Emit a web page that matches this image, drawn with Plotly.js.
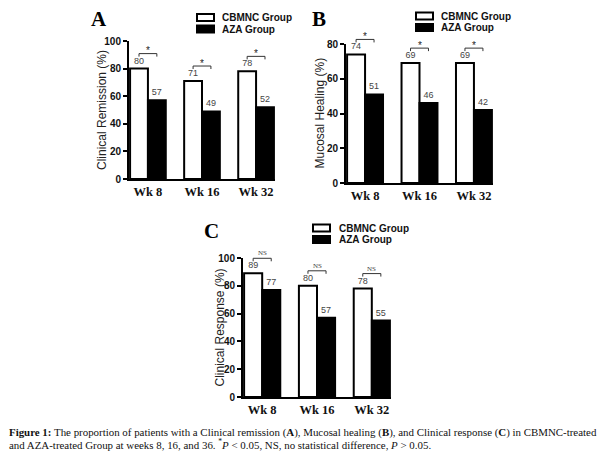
<!DOCTYPE html>
<html>
<head>
<meta charset="utf-8">
<script src="https://cdn.plot.ly/plotly-3.0.1.min.js"></script>
<style>html,body{margin:0;padding:0;background:#fff;}#chart{width:605px;height:457px;}</style>
</head>
<body>
<div id="chart"></div>
<script>
// ---------- data ----------
const weeks = ['Wk 8', 'Wk 16', 'Wk 32'];
const groupNames = ['CBMNC Group', 'AZA Group'];
const remissionCBMNC = [80, 71, 78];
const remissionAZA = [57, 49, 52];
const healingCBMNC = [74, 69, 69];
const healingAZA = [51, 46, 42];
const responseCBMNC = [89, 80, 78];
const responseAZA = [77, 57, 55];
const sigRemission = ['*', '*', '*'];
const sigHealing = ['*', '*', '*'];
const sigResponse = ['NS', 'NS', 'NS'];
const panelLetters = ['A', 'B', 'C'];
const yTitles = ['Clinical Remission (%)', 'Mucosal Healing (%)', 'Clinical Response (%)'];
const yMax = [100, 80, 100];
const captionLines = [
  '<b>Figure 1:</b> The proportion of patients with a Clinical remission (<b>A</b>), Mucosal healing (<b>B</b>), and Clinical response (<b>C</b>) in CBMNC-treated',
  'and AZA-treated Group at weeks 8, 16, and 36. <sup>*</sup><i>P</i> &lt; 0.05, NS, no statistical difference, <i>P</i> &gt; 0.05.'
];

// ---------- layout helpers ----------
const W = 605, H = 457;
const px = v => v / W;
const py = v => 1 - v / H;

const panels = [
  {s: '', cb: remissionCBMNC, az: remissionAZA, sig: sigRemission,
   xd: [129, 275], yd: [179, 41], titleX: 102, letter: [99, 19], leg: {bx: 197, tx: 220, y: [17.5, 29]}},
  {s: '2', cb: healingCBMNC, az: healingAZA, sig: sigHealing,
   xd: [346, 493], yd: [183, 44], titleX: 320, letter: [319, 19], leg: {bx: 416, tx: 439, y: [16, 27.5]}},
  {s: '3', cb: responseCBMNC, az: responseAZA, sig: sigResponse,
   xd: [243, 391], yd: [397, 258], titleX: 219, letter: [211, 231], leg: {bx: 313, tx: 337, y: [228, 239.5]}}
];

const bargap = 0.34;
const halfBar = (1 - bargap) / 4;   // bar centre offset in category units
const valueFont = {family: 'Liberation Sans Narrow, Arial Narrow, Liberation Sans, sans-serif', size: 9, color: '#444'};

const traces = [];
const shapes = [];
const annotations = [];
const layout = {
  width: W, height: H,
  margin: {l: 0, r: 0, t: 0, b: 0},
  paper_bgcolor: '#fff', plot_bgcolor: 'rgba(0,0,0,0)',
  barmode: 'group', bargap: bargap, bargroupgap: 0,
  showlegend: false,
  font: {family: 'Liberation Sans, Arial, sans-serif', color: '#000'}
};

panels.forEach((p, k) => {
  const xa = 'x' + p.s, ya = 'y' + p.s;
  [[p.cb, '#ffffff'], [p.az, '#000000']].forEach(([vals, col], g) => {
    traces.push({
      type: 'bar', x: weeks, y: vals, name: groupNames[g],
      xaxis: xa, yaxis: ya,
      marker: {color: col, line: {color: '#000', width: 2}},
      text: vals.map(String), textposition: 'outside', constraintext: 'none',
      textfont: valueFont, cliponaxis: false, hoverinfo: 'skip'
    });
  });
  const xKey = 'xaxis' + p.s, yKey = 'yaxis' + p.s;
  layout[xKey] = {
    domain: [px(p.xd[0]), px(p.xd[1])], anchor: ya,
    type: 'category', range: [-0.35, 2.35],
    showline: true, linecolor: '#000', linewidth: 2, ticks: '',
    showgrid: false, zeroline: false, fixedrange: true,
    tickfont: {family: 'Liberation Serif, Times New Roman, serif', size: 12.5, weight: 'bold', color: '#111'}
  };
  layout[yKey] = {
    domain: [py(p.yd[0]), py(p.yd[1])], anchor: xa,
    range: [0, yMax[k]], dtick: 20,
    showline: true, linecolor: '#000', linewidth: 2,
    ticks: 'outside', ticklen: 4, tickwidth: 2, tickcolor: '#000',
    showgrid: false, zeroline: false, fixedrange: true,
    tickfont: {family: 'Liberation Sans, Arial, sans-serif', size: 10, weight: 'bold', color: '#111'}
  };

  // y-axis title (placed beside the axis)
  annotations.push({
    xref: 'paper', yref: ya + ' domain', x: px(p.titleX), y: 0.5,
    xanchor: 'center', yanchor: 'middle', textangle: -90, showarrow: false,
    text: yTitles[k],
    font: {family: 'Liberation Sans, Arial, sans-serif', size: 12, color: '#222'}
  });

  // significance brackets spanning the two bar centres, anchored above the taller bar
  weeks.forEach((w, i) => {
    const top = Math.max(p.cb[i], p.az[i]);
    const frac = top / yMax[k];
    const base = {type: 'line', xref: xa, yref: ya + ' domain',
                  ysizemode: 'pixel', yanchor: frac,
                  line: {color: '#333', width: 1}};
    shapes.push(Object.assign({}, base, {x0: w, x0shift: -halfBar, x1: w, x1shift: halfBar, y0: 15, y1: 15}));
    shapes.push(Object.assign({}, base, {x0: w, x0shift: -halfBar, x1: w, x1shift: -halfBar, y0: 12, y1: 15}));
    shapes.push(Object.assign({}, base, {x0: w, x0shift: halfBar, x1: w, x1shift: halfBar, y0: 12, y1: 15}));
    const isStar = p.sig[i] === '*';
    annotations.push({
      xref: xa, yref: ya, x: w, y: top, yshift: isStar ? 18 : 20, yanchor: 'middle',
      text: p.sig[i], showarrow: false,
      font: isStar ? {family: 'Liberation Sans, Arial, sans-serif', size: 10, color: '#222'}
                   : {family: 'Liberation Serif, serif', size: 7, color: '#444'}
    });
  });

  // panel letter
  annotations.push({
    xref: 'paper', yref: 'paper', x: px(p.letter[0]), y: py(p.letter[1]),
    xanchor: 'center', yanchor: 'middle', showarrow: false,
    text: '<b>' + panelLetters[k] + '</b>',
    font: {family: 'Liberation Serif, Times New Roman, serif', size: 21, color: '#000'}
  });

  // legend
  groupNames.forEach((nm, g) => {
    const cy = p.leg.y[g];
    shapes.push({type: 'rect', xref: 'paper', yref: 'paper',
      x0: px(p.leg.bx), x1: px(p.leg.bx + 17), y0: py(cy + 3.5), y1: py(cy - 3.5),
      fillcolor: g === 0 ? '#fff' : '#000', line: {color: '#000', width: 2}});
    annotations.push({xref: 'paper', yref: 'paper', x: px(p.leg.tx), y: py(cy),
      xanchor: 'left', yanchor: 'middle', showarrow: false, text: '<b>' + nm + '</b>',
      font: {family: 'Liberation Sans, Arial, sans-serif', size: 10, color: '#111'}});
  });
});

// caption
captionLines.forEach((t, j) => {
  annotations.push({
    xref: 'paper', yref: 'paper', x: px(7), y: py(432 + 12 * j), xanchor: 'left', yanchor: 'middle',
    align: 'left', showarrow: false, text: t,
    font: {family: 'Liberation Serif, Times New Roman, serif', size: 10.9, color: '#111'}
  });
});

layout.shapes = shapes;
layout.annotations = annotations;

Plotly.newPlot('chart', traces, layout, {displayModeBar: false, staticPlot: true});
</script>
</body>
</html>
